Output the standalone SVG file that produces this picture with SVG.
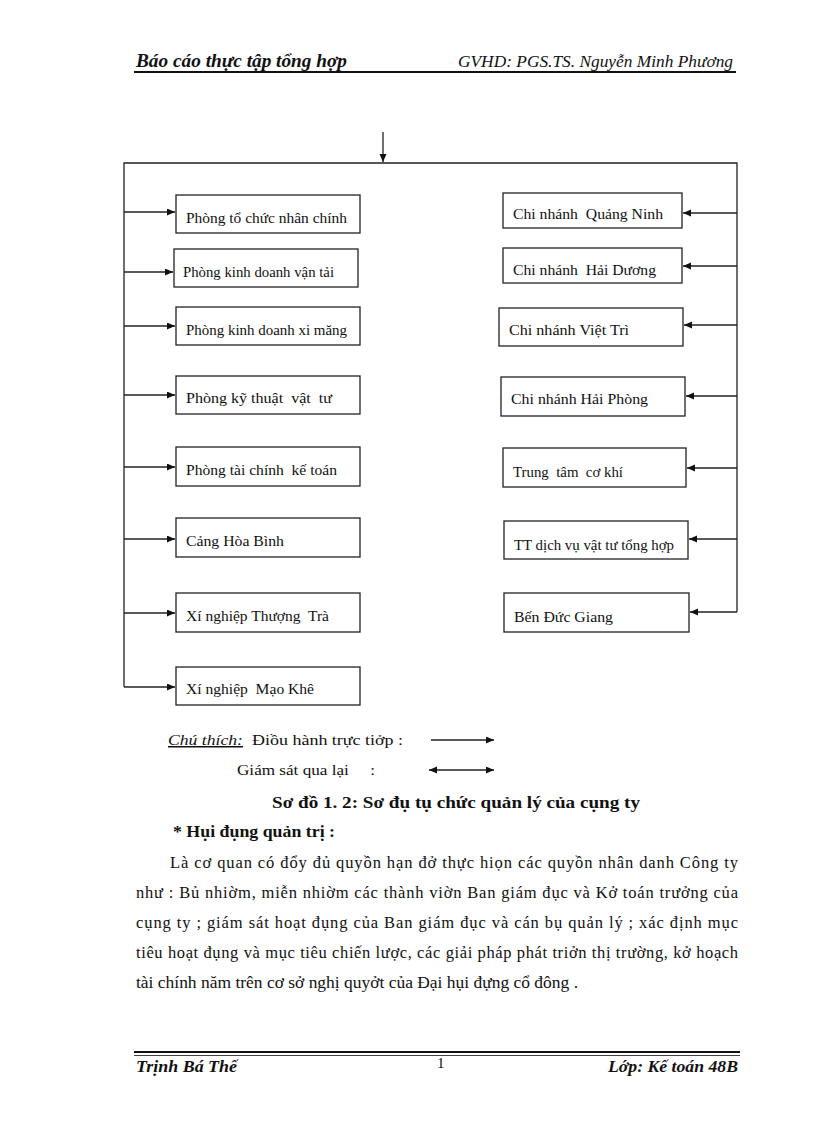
<svg xmlns="http://www.w3.org/2000/svg" width="816" height="1123" viewBox="0 0 816 1123">
<style>
.bx{fill:#fff;stroke:#222;stroke-width:1.3}
.lb{font-family:"Liberation Serif","Times New Roman",serif;font-size:15px;fill:#111;white-space:pre}
.cn{fill:none;stroke:#222;stroke-width:1.3}
.tx{font-family:"Liberation Serif","Times New Roman",serif;font-size:16.5px;fill:#111}
.hd{font-family:"Liberation Serif","Times New Roman",serif;font-style:italic;fill:#111}
</style>
<defs>
<marker id="ah" markerUnits="userSpaceOnUse" markerWidth="9" markerHeight="8" refX="8" refY="3.5" orient="auto-start-reverse">
<path d="M0,0 L8,3.5 L0,7 z" fill="#111"/>
</marker>
</defs>
<rect width="816" height="1123" fill="#fff"/>

<g id="header">
<text class="hd" x="136" y="67" font-size="18" font-weight="bold" textLength="211" lengthAdjust="spacingAndGlyphs">Báo cáo thực tập tổng hợp</text>
<text class="hd" x="458" y="67" font-size="16" textLength="275" lengthAdjust="spacingAndGlyphs">GVHD: PGS.TS. Nguyễn Minh Phương</text>
<line x1="134" y1="72" x2="736" y2="72" stroke="#111" stroke-width="2"/>
</g>

<g id="connectors">
<line class="cn" x1="383" y1="132" x2="383" y2="162" marker-end="url(#ah)"/>
<polyline class="cn" points="124,687 124,163 737,163 737,612"/>
<line class="cn" x1="124" y1="212" x2="175" y2="212" marker-end="url(#ah)"/>
<line class="cn" x1="124" y1="272" x2="173" y2="272" marker-end="url(#ah)"/>
<line class="cn" x1="124" y1="326" x2="175" y2="326" marker-end="url(#ah)"/>
<line class="cn" x1="124" y1="395" x2="175" y2="395" marker-end="url(#ah)"/>
<line class="cn" x1="124" y1="467" x2="175" y2="467" marker-end="url(#ah)"/>
<line class="cn" x1="124" y1="539" x2="175" y2="539" marker-end="url(#ah)"/>
<line class="cn" x1="124" y1="613" x2="175" y2="613" marker-end="url(#ah)"/>
<line class="cn" x1="124" y1="687" x2="175" y2="687" marker-end="url(#ah)"/>
<line class="cn" x1="737" y1="213" x2="683" y2="213" marker-end="url(#ah)"/>
<line class="cn" x1="737" y1="266" x2="683" y2="266" marker-end="url(#ah)"/>
<line class="cn" x1="737" y1="325" x2="684" y2="325" marker-end="url(#ah)"/>
<line class="cn" x1="737" y1="396" x2="686" y2="396" marker-end="url(#ah)"/>
<line class="cn" x1="737" y1="468" x2="687" y2="468" marker-end="url(#ah)"/>
<line class="cn" x1="737" y1="539" x2="689" y2="539" marker-end="url(#ah)"/>
<line class="cn" x1="737" y1="612" x2="690" y2="612" marker-end="url(#ah)"/>
</g>

<g id="n1"><rect class="bx" x="176" y="195" width="184" height="38"/><text class="lb" x="186" y="223" textLength="161" lengthAdjust="spacingAndGlyphs">Phòng tổ chức nhân chính</text></g>
<g id="n2"><rect class="bx" x="174" y="249" width="184" height="38"/><text class="lb" x="183" y="277" textLength="151" lengthAdjust="spacingAndGlyphs">Phòng kinh doanh vận tải</text></g>
<g id="n3"><rect class="bx" x="176" y="307" width="184" height="38"/><text class="lb" x="186" y="335" textLength="161" lengthAdjust="spacingAndGlyphs">Phòng kinh doanh xi măng</text></g>
<g id="n4"><rect class="bx" x="176" y="376" width="184" height="38"/><text class="lb" x="186" y="403" textLength="146" lengthAdjust="spacingAndGlyphs">Phòng kỹ thuật  vật  tư</text></g>
<g id="n5"><rect class="bx" x="176" y="447" width="184" height="39"/><text class="lb" x="186" y="475" textLength="151" lengthAdjust="spacingAndGlyphs">Phòng tài chính  kế toán</text></g>
<g id="n6"><rect class="bx" x="176" y="518" width="184" height="39"/><text class="lb" x="186" y="546" textLength="98" lengthAdjust="spacingAndGlyphs">Cảng Hòa Bình</text></g>
<g id="n7"><rect class="bx" x="176" y="593" width="184" height="39"/><text class="lb" x="186" y="621" textLength="143" lengthAdjust="spacingAndGlyphs">Xí nghiệp Thượng  Trà</text></g>
<g id="n8"><rect class="bx" x="176" y="667" width="184" height="38"/><text class="lb" x="186" y="694" textLength="128" lengthAdjust="spacingAndGlyphs">Xí nghiệp  Mạo Khê</text></g>

<g id="r1"><rect class="bx" x="503" y="193" width="179" height="35"/><text class="lb" x="513" y="219" textLength="150" lengthAdjust="spacingAndGlyphs">Chi nhánh  Quảng Ninh</text></g>
<g id="r2"><rect class="bx" x="503" y="248" width="179" height="35"/><text class="lb" x="513" y="275" textLength="143" lengthAdjust="spacingAndGlyphs">Chi nhánh  Hải Dương</text></g>
<g id="r3"><rect class="bx" x="499" y="308" width="184" height="38"/><text class="lb" x="509" y="335" textLength="120" lengthAdjust="spacingAndGlyphs">Chi nhánh Việt Trì</text></g>
<g id="r4"><rect class="bx" x="501" y="377" width="184" height="39"/><text class="lb" x="511" y="404" textLength="137" lengthAdjust="spacingAndGlyphs">Chi nhánh Hải Phòng</text></g>
<g id="r5"><rect class="bx" x="503" y="448" width="183" height="39"/><text class="lb" x="513" y="477" textLength="110" lengthAdjust="spacingAndGlyphs">Trung  tâm  cơ khí</text></g>
<g id="r6"><rect class="bx" x="504" y="521" width="184" height="38"/><text class="lb" x="514" y="550" textLength="160" lengthAdjust="spacingAndGlyphs">TT dịch vụ vật tư tổng hợp</text></g>
<g id="r7"><rect class="bx" x="504" y="593" width="185" height="39"/><text class="lb" x="514" y="622" textLength="99" lengthAdjust="spacingAndGlyphs">Bến Đức Giang</text></g>

<g id="legend">
<text class="lb" x="168" y="745" font-style="italic" text-decoration="underline" textLength="75" lengthAdjust="spacingAndGlyphs">Chú thích:</text>
<text class="lb" x="252" y="745" textLength="151" lengthAdjust="spacingAndGlyphs">Điồu hành trực tiởp :</text>
<line class="cn" x1="431" y1="740" x2="494" y2="740" marker-end="url(#ah)"/>
<text class="lb" x="237" y="775" textLength="138" lengthAdjust="spacingAndGlyphs">Giám sát qua lại     :</text>
<line class="cn" x1="429" y1="770" x2="494" y2="770" marker-start="url(#ah)" marker-end="url(#ah)"/>
</g>

<g id="title">
<text x="272" y="808" font-family="'Liberation Serif','Times New Roman',serif" font-size="17.5" font-weight="bold" fill="#111" textLength="368" lengthAdjust="spacingAndGlyphs">Sơ đồ 1. 2: Sơ đụ tụ chức quản lý của cụng ty</text>
</g>

<g id="body">
<text class="tx" x="173" y="837" font-weight="bold" textLength="162" lengthAdjust="spacingAndGlyphs">* Hụi đụng quản trị :</text>
<text class="tx" x="170" y="868" textLength="568" lengthAdjust="spacing">Là cơ quan có đổy đủ quyồn hạn đở thực hiọn các quyồn nhân danh Công ty</text>
<text class="tx" x="136" y="898" textLength="602" lengthAdjust="spacing">như : Bủ nhiờm, miễn nhiờm các thành viờn Ban giám đục và Kở toán trưởng của</text>
<text class="tx" x="136" y="928" textLength="602" lengthAdjust="spacing">cụng ty ; giám sát hoạt đụng của Ban giám đục và cán bụ quản lý ; xác định mục</text>
<text class="tx" x="136" y="958" textLength="602" lengthAdjust="spacing">tiêu hoạt đụng và mục tiêu chiến lược, các giải pháp phát triởn thị trường, kở hoạch</text>
<text class="tx" x="136" y="988" textLength="442" lengthAdjust="spacingAndGlyphs">tài chính năm trên cơ sở nghị quyởt của Đại hụi đựng cổ đông .</text>
</g>

<g id="footer">
<line x1="134" y1="1052" x2="740" y2="1052" stroke="#111" stroke-width="1.8"/>
<line x1="134" y1="1055.5" x2="740" y2="1055.5" stroke="#111" stroke-width="0.8"/>
<text class="hd" x="136" y="1072" font-size="16" font-weight="bold" textLength="101" lengthAdjust="spacingAndGlyphs">Trịnh Bá Thế</text>
<text x="437" y="1068" font-family="'Liberation Serif','Times New Roman',serif" font-size="15" fill="#111">1</text>
<text class="hd" x="608" y="1072" font-size="16" font-weight="bold" textLength="130" lengthAdjust="spacingAndGlyphs">Lớp: Kế toán 48B</text>
</g>
</svg>
